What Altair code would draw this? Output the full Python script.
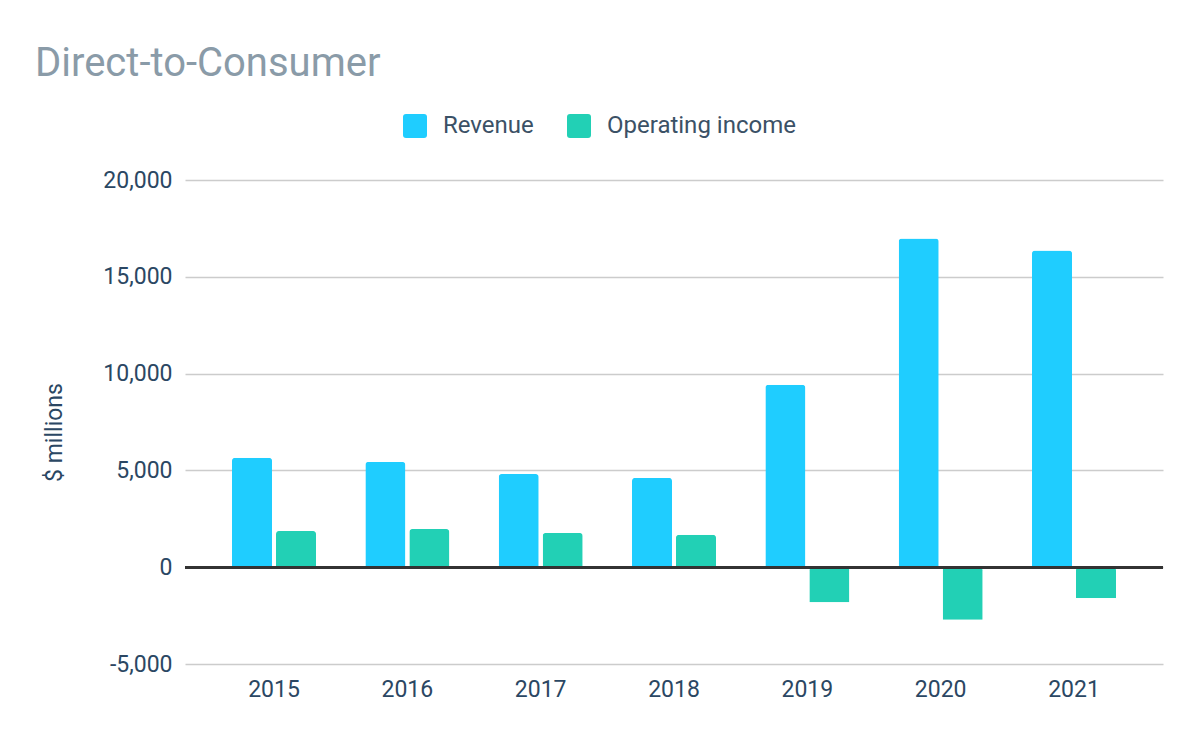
import altair as alt
import pandas as pd

years = ["2015", "2016", "2017", "2018", "2019", "2020", "2021"]
revenue = [5650, 5440, 4810, 4610, 9430, 16980, 16360]
operating_income = [1870, 1970, 1770, 1670, -1810, -2720, -1600]
series_names = ["Revenue", "Operating income"]
colors = ["#1FCDFF", "#22D0B5"]

rows = []
for i, y in enumerate(years):
    rows.append({"year": y, "series": series_names[0], "value": revenue[i]})
    rows.append({"year": y, "series": series_names[1], "value": operating_income[i]})
df = pd.DataFrame(rows)

FONT = "Roboto"
rounded_sq = ("M-0.75,-1 L0.75,-1 Q1,-1 1,-0.75 L1,0.75 Q1,1 0.75,1 "
              "L-0.75,1 Q-1,1 -1,0.75 L-1,-0.75 Q-1,-1 -0.75,-1 Z")

bars = alt.Chart().mark_bar(cornerRadiusEnd=3).encode(
    x=alt.X("year:N", sort=years, title=None,
            scale=alt.Scale(paddingInner=0.37, paddingOuter=0.3525),
            axis=alt.Axis(labelAngle=0, ticks=False, tickSize=0, domain=False,
                          labelPadding=14, labelFontSize=23, labelFont=FONT,
                          labelColor="#2B4763", grid=False)),
    xOffset=alt.XOffset("series:N", sort=series_names,
                        scale=alt.Scale(paddingInner=0.09, paddingOuter=0)),
    y=alt.Y("value:Q", title="$ millions",
            scale=alt.Scale(domain=[-5000, 20000], nice=False),
            axis=alt.Axis(values=[-5000, 0, 5000, 10000, 15000, 20000],
                          labelExpr="replace(format(datum.value, ',.0f'), '\u2212', '-')",
                          ticks=False, tickSize=0, domain=False, labelPadding=13,
                          labelFontSize=23, labelFont=FONT, labelColor="#2B4763",
                          gridColor="#CCCCCC", gridWidth=1.4,
                          titleFont=FONT, titleFontSize=23, titleFontWeight="normal",
                          titleColor="#2B4763", titleX=-124, titleY=252,
                          titleBaseline="alphabetic", titleAlign="center", titleAngle=270)),
    color=alt.Color("series:N", sort=series_names,
                    scale=alt.Scale(domain=series_names, range=colors),
                    legend=alt.Legend(title=None, orient="none", direction="horizontal",
                                      legendX=218, legendY=-66,
                                      symbolType=rounded_sq, symbolSize=576,
                                      symbolStrokeWidth=0, symbolOpacity=1,
                                      labelFont=FONT, labelFontSize=24, labelLimit=400,
                                      labelColor="#3B5166", labelOffset=16,
                                      columnPadding=33)),
)

zero = alt.Chart().mark_rule(color="#333333", strokeWidth=2).encode(y=alt.datum(0))

chart = alt.layer(bars, zero, data=df).properties(
    width=978,
    height=484,
    padding={"left": 177, "top": 172, "right": 20, "bottom": 50},
    autosize=alt.AutoSizeParams(type="none"),
    title=alt.TitleParams("Direct-to-Consumer", anchor="start", frame="group",
                          fontSize=40, font=FONT, fontWeight="normal",
                          color="#8A9BA8", dx=-150, dy=40, offset=38,
                          baseline="alphabetic"),
).configure_view(stroke=None)

chart.save("out.html", embed_options={"renderer": "svg", "actions": False})
